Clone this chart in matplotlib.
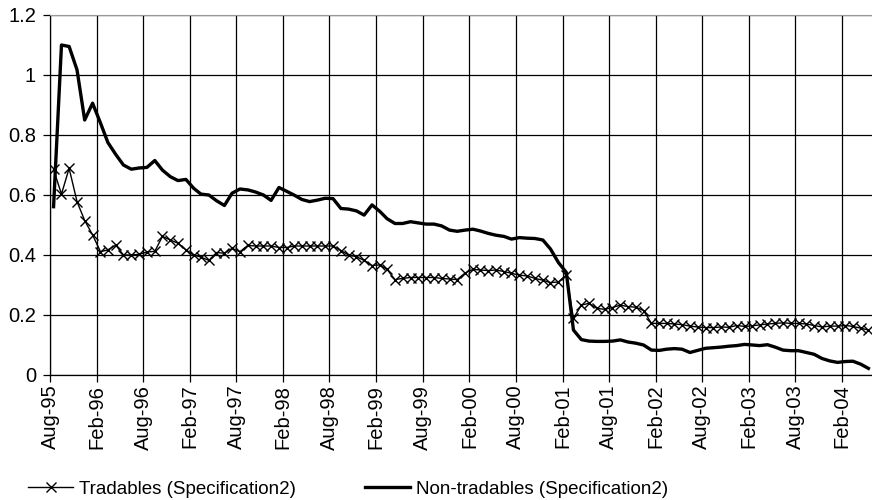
import numpy as np
import pandas as pd
import matplotlib
matplotlib.use("Agg")
import matplotlib.pyplot as plt
import matplotlib.dates as mdates

plt.rcParams['font.family'] = ['Liberation Sans', 'DejaVu Sans']
plt.rcParams['font.size'] = 13.5

# --- Data (monthly, Aug-95 to May-04) ---
months = pd.date_range('1995-08-01', periods=106, freq='MS') + pd.Timedelta(days=14)

tradables = [
    0.685, 0.603, 0.689, 0.578, 0.515, 0.467, 0.411, 0.417, 0.433, 0.400,
    0.400, 0.402, 0.410, 0.412, 0.462, 0.450, 0.439, 0.417, 0.400, 0.393,
    0.382, 0.408, 0.406, 0.422, 0.411, 0.432, 0.430, 0.430, 0.430, 0.425,
    0.425, 0.430, 0.430, 0.430, 0.430, 0.430, 0.430, 0.415, 0.400, 0.394,
    0.382, 0.365, 0.367, 0.352, 0.318, 0.322, 0.325, 0.325, 0.325, 0.325,
    0.322, 0.320, 0.318, 0.340, 0.352, 0.350, 0.348, 0.350, 0.345, 0.339,
    0.333, 0.330, 0.322, 0.316, 0.308, 0.310, 0.333, 0.189, 0.233, 0.239,
    0.222, 0.219, 0.225, 0.233, 0.228, 0.226, 0.215, 0.172, 0.172, 0.172,
    0.170, 0.168, 0.163, 0.160, 0.158, 0.158, 0.160, 0.159, 0.165, 0.162,
    0.164, 0.167, 0.170, 0.172, 0.174, 0.172, 0.172, 0.170, 0.165, 0.160,
    0.163, 0.163, 0.165, 0.162, 0.156, 0.150,
]

non_tradables = [
    0.561, 1.100, 1.095, 1.017, 0.850, 0.906, 0.840, 0.775, 0.735, 0.700,
    0.686, 0.690, 0.692, 0.715, 0.683, 0.661, 0.648, 0.652, 0.622, 0.603,
    0.600, 0.581, 0.565, 0.606, 0.620, 0.617, 0.610, 0.600, 0.582, 0.625,
    0.612, 0.600, 0.585, 0.578, 0.583, 0.589, 0.588, 0.555, 0.553, 0.547,
    0.533, 0.567, 0.545, 0.521, 0.505, 0.505, 0.511, 0.507, 0.503, 0.503,
    0.497, 0.483, 0.479, 0.483, 0.486, 0.480, 0.472, 0.466, 0.462, 0.453,
    0.458, 0.456, 0.455, 0.450, 0.420, 0.375, 0.342, 0.150, 0.118, 0.113,
    0.112, 0.112, 0.113, 0.117, 0.110, 0.106, 0.100, 0.083, 0.082, 0.086,
    0.088, 0.086, 0.075, 0.082, 0.089, 0.091, 0.093, 0.096, 0.098, 0.102,
    0.100, 0.098, 0.101, 0.093, 0.083, 0.081, 0.081, 0.075, 0.069, 0.055,
    0.047, 0.042, 0.045, 0.046, 0.036, 0.022,
]

fig = plt.figure(figsize=(8.72, 5.0), dpi=100)
ax = fig.add_axes([50 / 872, 0.25, 1 - 50 / 872, 0.72])

ax.plot(months, tradables, color='black', lw=1.0, marker='x',
        markersize=7.5, markeredgewidth=1.0, label='Tradables (Specification2)')
ax.plot(months, non_tradables, color='black', lw=2.4,
        label='Non-tradables (Specification2)')

ax.set_ylim(0, 1.2)
ax.set_yticks(np.arange(0, 1.21, 0.2))
ax.set_yticklabels(['0', '0.2', '0.4', '0.6', '0.8', '1', '1.2'])
ax.set_xlim(pd.Timestamp('1995-08-01'), pd.Timestamp('2004-05-29'))

ticks = pd.date_range('1995-08-01', '2004-02-01', freq='6MS')
ax.set_xticks(ticks)
ax.xaxis.set_major_formatter(mdates.DateFormatter('%b-%y'))
plt.setp(ax.get_xticklabels(), rotation=90)

ax.grid(True, color='black', lw=0.9)
ax.set_axisbelow(True)
ax.tick_params(direction='out', length=5, width=0.9, colors='black',
               labelsize=14.5)
ax.tick_params(axis='x', pad=2)
ax.tick_params(axis='y', pad=5)
for side in ['left', 'bottom']:
    ax.spines[side].set_color('black')
    ax.spines[side].set_linewidth(0.9)
ax.spines['top'].set_color('#999999')
ax.spines['right'].set_visible(False)

fig.legend(loc='center left', bbox_to_anchor=(28 / 872, 0.022), ncol=2,
           frameon=False, handlelength=2.4, handletextpad=0.3,
           columnspacing=3.7, borderaxespad=0, borderpad=0)

fig.savefig('out.png', dpi=100)
